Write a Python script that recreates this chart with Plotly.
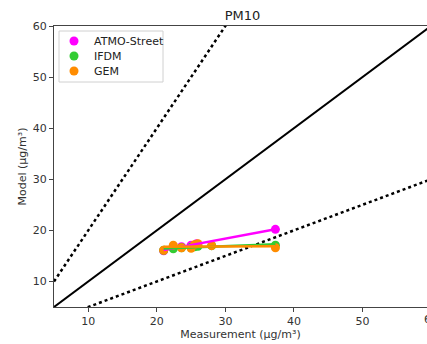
import numpy as np
import plotly.graph_objects as go

title = "PM10"
atmo_x = [21.0, 22.4, 23.6, 25.0, 25.8, 37.3]
atmo_y = [16.0, 16.6, 16.8, 17.1, 17.4, 20.2]
model_x = [21.0, 22.4, 23.6, 25.0, 25.5, 26.0, 28.0, 37.3]
ifdm_y = [16.1, 16.4, 16.6, 16.7, 16.8, 16.9, 17.0, 17.1]
gem_y = [16.1, 17.1, 16.6, 16.5, 17.2, 17.4, 17.0, 16.6]
series = [("ATMO-Street", atmo_x, atmo_y, "#ff00ff"),
          ("IFDM", model_x, ifdm_y, "#33cc33"),
          ("GEM", model_x, gem_y, "#ff8c00")]
ref_x = [5, 60]
tick_vals = [10, 20, 30, 40, 50, 60]

fig = go.Figure()

# reference lines 1:1, 2:1 and 1:2
fig.add_trace(go.Scatter(x=ref_x, y=ref_x, mode="lines", line=dict(color="black", width=2),
                         showlegend=False, hoverinfo="skip"))
fig.add_trace(go.Scatter(x=ref_x, y=[2 * v for v in ref_x], mode="lines",
                         line=dict(color="black", width=2.5, dash="dot"), showlegend=False, hoverinfo="skip"))
fig.add_trace(go.Scatter(x=ref_x, y=[v / 2 for v in ref_x], mode="lines",
                         line=dict(color="black", width=2.5, dash="dot"), showlegend=False, hoverinfo="skip"))

for name, xs, ys, col in series:
    fig.add_trace(go.Scatter(x=xs, y=ys, mode="markers", name=name, showlegend=False,
                             marker=dict(color=col, size=9, line=dict(width=0))))
for name, xs, ys, col in series:
    k, b = np.polyfit(xs, ys, 1)
    ends = [min(xs), max(xs)]
    fig.add_trace(go.Scatter(x=ends, y=[k * v + b for v in ends], mode="lines",
                             line=dict(color=col, width=2.5), showlegend=False, hoverinfo="skip"))

# compact legend (matplotlib-like spacing)
PW, PH = 373.0, 281.0
def px(p):
    return (p - 54) / PW
def py(p):
    return (307 - p) / PH
fig.add_shape(type="rect", xref="paper", yref="paper", x0=px(59), x1=px(163), y0=py(82), y1=py(31),
              fillcolor="white", line=dict(color="#d0d0d0", width=1), layer="above")
for i, (name, xs, ys, col) in enumerate(series):
    yy = 41 + 15 * i
    fig.add_shape(type="circle", xref="paper", yref="paper", xsizemode="pixel", ysizemode="pixel",
                  xanchor=px(74), yanchor=py(yy), x0=-4.5, x1=4.5, y0=-4.5, y1=4.5,
                  fillcolor=col, line=dict(width=0), layer="above")
    fig.add_annotation(text=name, xref="paper", yref="paper", x=px(92), y=py(yy), xanchor="left",
                       yanchor="middle", showarrow=False,
                       font=dict(family="DejaVu Sans", size=11, color="#222"))

# last tick label, cut off by the right edge as in the reference
fig.add_annotation(text="60", xref="paper", yref="paper", x=px(431), y=py(311), xanchor="center",
                   yanchor="top", showarrow=False, font=dict(family="DejaVu Sans", size=11, color="#333"))

axis_common = dict(showgrid=False, zeroline=False, showline=True, linecolor="#444", linewidth=1,
                   mirror=True, ticks="outside", ticklen=4, tickcolor="#444", automargin=False,
                   tickfont=dict(family="DejaVu Sans", size=11, color="#333"))
fig.update_layout(
    width=427, height=344,
    margin=dict(l=54, r=0, t=26, b=37, autoexpand=False),
    paper_bgcolor="white", plot_bgcolor="white",
    title=dict(text=title, x=242.5 / 427, xref="container", xanchor="center",
               y=1 - 15.5 / 344, yref="container", yanchor="middle",
               font=dict(family="DejaVu Sans", size=13, color="#222")),
    xaxis=dict(range=[5, 5 + 373 / 6.855], tickvals=tick_vals,
               title=dict(text="Measurement (µg/m³)", standoff=3,
                          font=dict(family="DejaVu Sans", size=11, color="#333")), **axis_common),
    yaxis=dict(range=[5, 60], tickvals=tick_vals,
               title=dict(text="Model (µg/m³)", standoff=3,
                          font=dict(family="DejaVu Sans", size=11, color="#333")), **axis_common),
    showlegend=False,
)
fig.write_html("out.html", config={"displayModeBar": False},
               post_script="document.body.style.margin='0';document.body.style.overflow='hidden';")
